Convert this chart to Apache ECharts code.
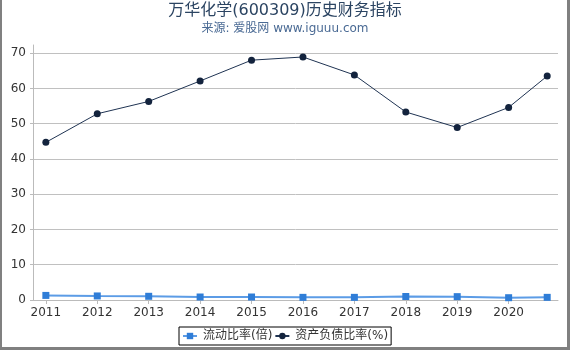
<!DOCTYPE html>
<html>
<head>
<meta charset="utf-8">
<script src="https://cdn.jsdelivr.net/npm/echarts@6/dist/echarts.min.js"></script>
<style>
    html, body { margin: 0; padding: 0; background: #fff; }
    #main {
        width: 570px; height: 350px; box-sizing: border-box;
        border-left: 2px solid #808080; border-right: 3px solid #808080; border-bottom: 3px solid #808080;
    }
    #chart { position: absolute; left: 0; top: 0; width: 570px; height: 350px; }
</style>
</head>
<body>
<div id="main"></div>
<div id="chart"></div>
<script>
// 报告期位置(年), 最后一个点是年中数据
var periods = [2011, 2012, 2013, 2014, 2015, 2016, 2017, 2018, 2019, 2020, 2020.75];
var yearLabels = [2011, 2012, 2013, 2014, 2015, 2016, 2017, 2018, 2019, 2020];
var yTicks = [0, 10, 20, 30, 40, 50, 60, 70];
var currentRatio = [1.3, 1.15, 1.05, 0.85, 0.85, 0.75, 0.75, 1.0, 0.95, 0.65, 0.75];
var debtRatio = [44.7, 52.8, 56.3, 62.1, 68.0, 68.9, 63.8, 53.3, 48.9, 54.6, 63.5];

var font = 'DejaVu Sans, Noto Sans CJK SC, sans-serif';

function pairs(xs, ys) {
    return xs.map(function (x, i) { return [x, ys[i]]; });
}

var chart = echarts.init(document.getElementById('chart'));
chart.setOption({
    animation: false,
    textStyle: { fontFamily: font },
    title: {
        text: '万华化学(600309)历史财务指标',
        subtext: '来源: 爱股网 www.iguuu.com',
        left: 285,
        textAlign: 'center',
        top: 3,
        padding: 0,
        itemGap: 4,
        textStyle: { fontSize: 16, fontWeight: 'normal', color: '#2b4462', fontFamily: font },
        subtextStyle: { fontSize: 12, color: '#4a6a94', fontFamily: font }
    },
    legend: {
        left: 179,
        top: 327,
        padding: [3, 3],
        itemGap: 2,
        itemWidth: 14,
        itemHeight: 8,
        borderColor: '#000',
        borderWidth: 1,
        borderRadius: 0,
        textStyle: { fontSize: 12, color: '#333', fontFamily: font, padding: [0, 0, 0, 1] },
        data: ['流动比率(倍)', '资产负债比率(%)']
    },
    grid: {
        left: 33,
        right: 12,
        top: 45,
        bottom: 50,
        containLabel: false
    },
    xAxis: {
        type: 'value',
        min: 2010.75,
        max: 2020.96,
        axisLine: { lineStyle: { color: '#bbb' } },
        axisTick: { show: true, length: 4, customValues: yearLabels, lineStyle: { color: '#bbb' } },
        axisLabel: {
            customValues: yearLabels,
            margin: 7,
            fontSize: 12,
            color: '#333',
            fontFamily: font,
            formatter: function (v) { return String(v); }
        },
        splitLine: { show: false }
    },
    yAxis: {
        type: 'value',
        min: 0,
        max: 72.3,
        axisLine: { show: true, lineStyle: { color: '#bbb' } },
        axisTick: { show: true, length: 3, customValues: yTicks, lineStyle: { color: '#bbb' } },
        axisLabel: { customValues: yTicks, margin: 7, fontSize: 12, color: '#333', fontFamily: font },
        splitLine: { show: true, lineStyle: { color: '#c0c0c0' } }
    },
    series: [
        {
            name: '流动比率(倍)',
            type: 'line',
            symbol: 'rect',
            symbolSize: 7,
            itemStyle: { color: '#2f7dd7' },
            lineStyle: { color: '#5c9ce6', width: 2 },
            data: pairs(periods, currentRatio)
        },
        {
            name: '资产负债比率(%)',
            type: 'line',
            symbol: 'circle',
            symbolSize: 7,
            itemStyle: { color: '#13233d' },
            lineStyle: { color: '#1f3352', width: 1 },
            data: pairs(periods, debtRatio)
        }
    ]
});
</script>
</body>
</html>
